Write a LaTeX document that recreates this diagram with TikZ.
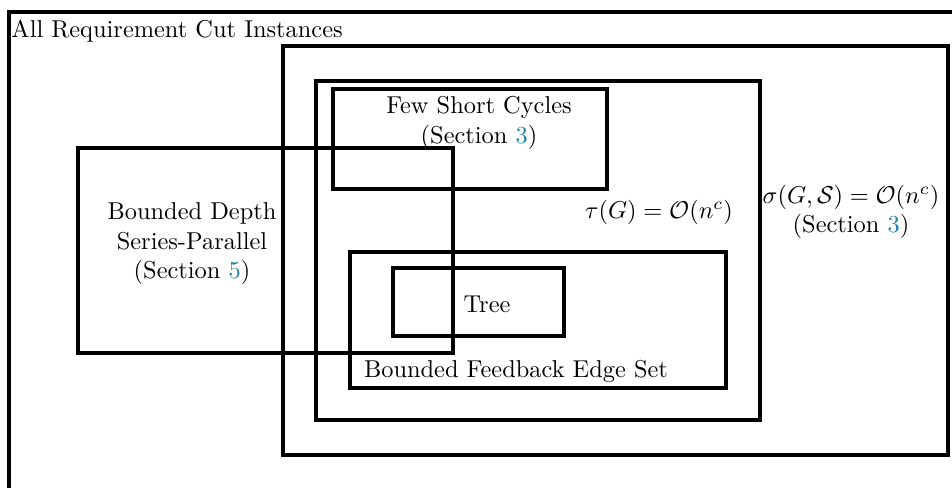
\documentclass[tikz,border=0pt]{standalone}
\usepackage{amsmath,amssymb}
\definecolor{seccol}{RGB}{35,130,170}
\begin{document}
\begin{tikzpicture}[x=0.41pt,y=-0.41pt,
  box/.style={draw=black,line width=1.64pt,line join=miter},
  lbl/.style={anchor=base,inner sep=0pt,font=\normalsize}]
\useasboundingbox (0,0) rectangle (952,487);
\clip (0,0) rectangle (952,487);
% outer set (clipped at right and bottom)
\draw[box] (9,12) rectangle (975,510);
% sigma box
\draw[box] (283,46) rectangle (948,455);
% tau box
\draw[box] (316,81) rectangle (760,420);
% few short cycles
\draw[box] (333,89) rectangle (607,189);
% bounded depth series-parallel
\draw[box] (78,148) rectangle (453,353);
% bounded feedback edge set
\draw[box] (350,252) rectangle (726,388);
% tree
\draw[box] (393,268) rectangle (564,336);

\node[lbl,anchor=base west] (all) at (11,37) {All Requirement Cut Instances};
\node[lbl] (fsc1) at (479,113) {Few Short Cycles};
\node[lbl] (fsc2) at (479,143) {(Section \textcolor{seccol}{3})};
\node[lbl] (tau) at (659,218) {$\tau(G)=\mathcal{O}(n^c)$};
\node[lbl] (sig1) at (851,203) {$\sigma(G,\mathcal{S})=\mathcal{O}(n^c)$};
\node[lbl] (sig2) at (851,232) {(Section \textcolor{seccol}{3})};
\node[lbl] (bd1) at (192,219) {Bounded Depth};
\node[lbl] (bd2) at (192,249) {Series-Parallel};
\node[lbl] (bd3) at (192,278) {(Section \textcolor{seccol}{5})};
\node[lbl] (tree) at (487,312) {Tree};
\node[lbl] (fes) at (516,377) {Bounded Feedback Edge Set};
\end{tikzpicture}
\end{document}
